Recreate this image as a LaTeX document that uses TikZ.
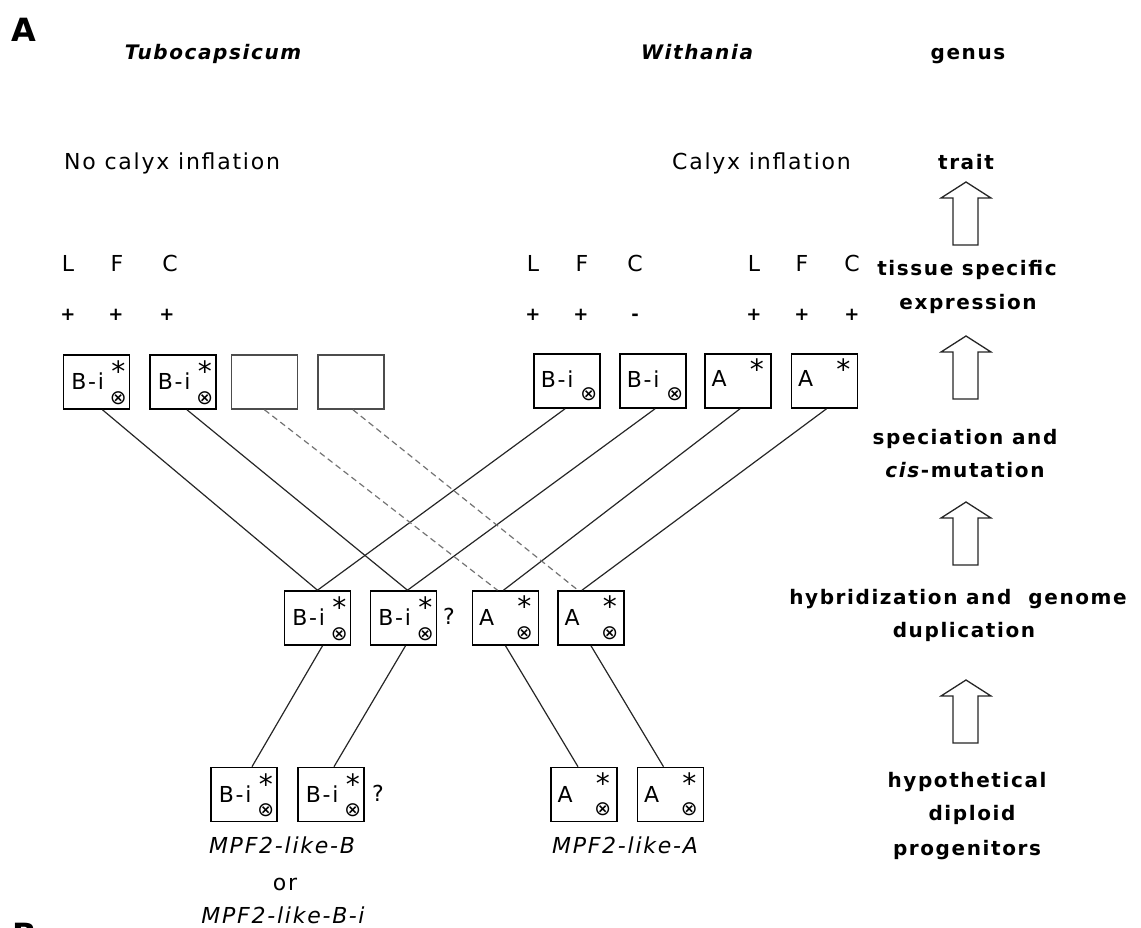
\documentclass[tikz,border=0pt]{standalone}
\usepackage{fontspec}
\setmainfont{DejaVu Sans}[LetterSpace=8]
\newfontfamily\symfont{DejaVu Sans}
\begin{document}
\begin{tikzpicture}[x=1pt,y=-1pt,
  gbox/.style={draw=black, line width=1.6pt, minimum width=66pt, minimum height=54pt, inner sep=0pt},
  ebox/.style={gbox, draw=black!70},
  conn/.style={draw=black!85, line width=1.2pt},
  dconn/.style={conn, draw=black!55, dash pattern=on 6pt off 4pt},
  rt/.style={font=\fontsize{22}{26}\selectfont, inner sep=0pt, text height=15pt, text depth=0pt},
  it/.style={font=\fontsize{22}{26}\selectfont\itshape, inner sep=0pt, text height=15pt, text depth=0pt},
  bt/.style={font=\fontsize{20}{24}\selectfont\bfseries, inner sep=0pt, text height=14pt, text depth=0pt},
  bit/.style={font=\fontsize{20}{24}\selectfont\bfseries\itshape, inner sep=0pt, text height=14pt, text depth=0pt},
  big/.style={font=\fontsize{32}{36}\selectfont\bfseries, inner sep=0pt, text height=23pt, text depth=0pt},
  intxt/.style={font=\fontsize{22}{26}\selectfont, inner sep=0pt, text height=15pt, text depth=0pt},
  sttxt/.style={font=\fontsize{28}{28}\symfont, inner sep=0pt},
  ottxt/.style={font=\fontsize{20}{20}\symfont, inner sep=0pt},
  harrow/.style={draw=black!85, line width=1.3pt, fill=white}
]
\useasboundingbox (0,0) rectangle (1141,927);

% panel labels
\node[big] (lblA) at (24,30) {A};
\node[big] (lblB) at (25,935) {B};

% genus row
\node[bit] (g1) at (213,52) {Tubocapsicum};
\node[bit] (g2) at (697,52) {Withania};
\node[bt] (g3) at (968,52) {genus};

% trait row
\node[rt, anchor=west] (t1) at (64,162) {No calyx inflation};
\node[rt, anchor=west] (t2) at (672,162) {Calyx inflation};
\node[bt] (t3) at (966,162) {trait};

% tissue letters
\foreach \x/\l [count=\i] in {68/L,117/F,170/C,533/L,582/F,635/C,754/L,802/F,852/C}
  \node[rt] (tl\i) at (\x,264) {\l};
\foreach \x/\l [count=\i] in {68/+,116/+,167/+,533/+,581/+,635/-,754/+,802/+,852/+}
  \node[rt, font=\fontsize{18}{20}\selectfont\bfseries] (pm\i) at (\x,313) {\l};

% right column labels
\node[bt] (r1a) at (967,268) {tissue specific};
\node[bt] (r1b) at (968,302) {expression};
\node[bt] (r2a) at (965,437) {speciation and};
\node[bt] (r2b) at (965,470) {\textit{cis}-mutation};
\node[bt] (r3a) at (958,597) {hybridization and~ genome};
\node[bt] (r3b) at (964,630) {duplication};
\node[bt] (r4a) at (967,780) {hypothetical};
\node[bt] (r4b) at (972,813) {diploid};
\node[bt] (r4c) at (967,848) {progenitors};

% hollow arrows
\foreach \y in {182,336,502,680}
  \draw[harrow] (966,\y) -- ++(25,16) -- ++(-13,0) -- ++(0,47) -- ++(-25,0) -- ++(0,-47) -- ++(-12,0) -- cycle;

% top boxes
\node[gbox] (b1) at (96.5,382) {};
\node[gbox] (b2) at (183,382) {};
\node[ebox] (b3) at (264.5,382) {};
\node[ebox] (b4) at (351,382) {};
\node[gbox] (b5) at (567,381) {};
\node[gbox] (b6) at (653,381) {};
\node[gbox] (b7) at (738,381) {};
\node[gbox] (b8) at (824.5,381) {};
% middle boxes
\node[gbox] (m1) at (317.5,618) {};
\node[gbox] (m2) at (403.5,618) {};
\node[gbox] (m3) at (505.5,618) {};
\node[gbox] (m4) at (591,618) {};
% bottom boxes
\node[gbox] (p1) at (244,794.5) {};
\node[gbox] (p2) at (331,794.5) {};
\node[gbox] (p3) at (584,794.5) {};
\node[gbox] (p4) at (670.5,794.5) {};

% box contents
\foreach \n in {b1,b2,m1,m2,p1,p2} {
  \node[intxt] at ([xshift=25pt]\n.west) {B-i};
  \node[sttxt] at ([xshift=-12pt,yshift=-17pt]\n.north east) {*};
  \node[ottxt] at ([xshift=-12pt,yshift=12pt]\n.south east) {⊗};
}
\foreach \n in {b5,b6} {
  \node[intxt] at ([xshift=24pt,yshift=1pt]\n.west) {B-i};
  \node[ottxt] at ([xshift=-12pt,yshift=15pt]\n.south east) {⊗};
}
\foreach \n in {b7,b8} {
  \node[intxt] at ([xshift=15pt,yshift=2pt]\n.west) {A};
  \node[sttxt] at ([xshift=-15pt,yshift=-16pt]\n.north east) {*};
}
\foreach \n in {m3,m4,p3,p4} {
  \node[intxt] at ([xshift=15pt]\n.west) {A};
  \node[sttxt] at ([xshift=-15pt,yshift=-16pt]\n.north east) {*};
  \node[ottxt] at ([xshift=-15pt,yshift=13pt]\n.south east) {⊗};
}
\node[rt] (q1) at (449,617) {?};
\node[rt] (q2) at (378,794) {?};

% captions
\node[it] (c1) at (282,846) {MPF2-like-B};
\node[rt] (c2) at (285,883) {or};
\node[it] (c3) at (283,916) {MPF2-like-B-i};
\node[it] (c4) at (625,846) {MPF2-like-A};

% connectors top -> middle
\draw[conn] ([xshift=6pt]b1.south) -- (m1.north);
\draw[conn] ([xshift=-2pt]b5.south) -- (m1.north);
\draw[conn] ([xshift=4pt]b2.south) -- ([xshift=4pt]m2.north);
\draw[conn] ([xshift=2pt]b6.south) -- ([xshift=4pt]m2.north);
\draw[dconn] (b3.south) -- ([xshift=-8pt]m3.north);
\draw[conn] ([xshift=2pt]b7.south) -- ([xshift=-2pt]m3.north);
\draw[dconn] ([xshift=2pt]b4.south) -- ([xshift=-13pt]m4.north);
\draw[conn] ([xshift=2pt]b8.south) -- ([xshift=-9pt]m4.north);
% middle -> bottom
\draw[conn] ([xshift=5pt]m1.south) -- ([xshift=8pt]p1.north);
\draw[conn] ([xshift=2pt]m2.south) -- ([xshift=3pt]p2.north);
\draw[conn] (m3.south) -- ([xshift=-6pt]p3.north);
\draw[conn] (m4.south) -- ([xshift=-7pt]p4.north);
\end{tikzpicture}
\end{document}
